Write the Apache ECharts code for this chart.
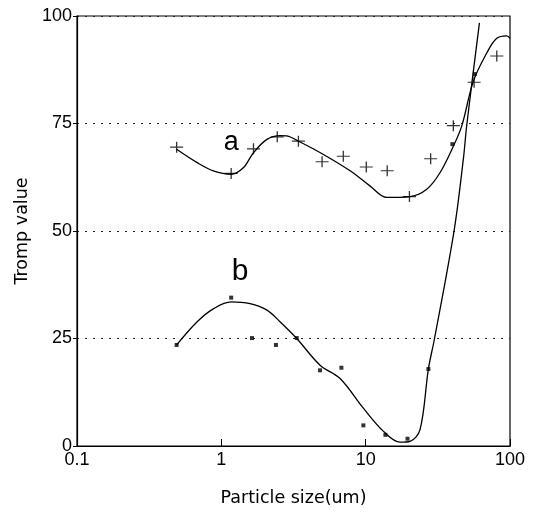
<!DOCTYPE html>
<html>
<head>
<meta charset="utf-8">
<script src="https://cdn.jsdelivr.net/npm/echarts@6/dist/echarts.min.js"></script>
<style>
  html, body { margin: 0; padding: 0; background: #fff; }
  #main { width: 537px; height: 512px; }
</style>
</head>
<body>
<div id="main"></div>
<script>
// measured points (x = particle size, y = tromp value)
var aPointX = [0.49, 1.17, 1.67, 2.44, 3.42, 4.99, 7.0, 10.1, 14.1, 20.1, 28.2, 40.5, 56.4, 81];
var aPointY = [69.5, 63.4, 69.1, 71.9, 70.9, 66.1, 67.4, 64.9, 64.0, 58.0, 66.8, 74.5, 84.6, 90.7];
var bPointX = [0.49, 1.17, 1.63, 2.39, 3.33, 4.83, 6.79, 9.64, 13.7, 19.5, 27.2, 39.9, 57];
var bPointY = [23.5, 34.5, 25.1, 23.5, 25.1, 17.6, 18.2, 4.8, 2.6, 1.7, 17.9, 70.2, 86.5];

// fitted curves
var aCurveX = [0.49, 0.68, 0.88, 1.17, 1.42, 1.67, 2.07, 2.55, 2.84, 3.51, 5.1, 7.8, 10.7, 14.0, 20.3, 26.5, 32.8, 40.5, 46.4, 55.7, 69, 81, 95, 100];
var aCurveY = [69, 65.9, 64.0, 63.2, 64.7, 68.2, 71.3, 72.2, 72.1, 70.7, 67.8, 64.0, 60.5, 57.8, 58.0, 59.7, 63.6, 69.7, 74.5, 84.8, 91.4, 94.8, 95.4, 94.8];
var bCurveX = [0.49, 0.68, 0.88, 1.17, 1.58, 2.07, 2.55, 3.33, 4.83, 6.65, 9.64, 13.3, 17.3, 20.3, 23.8, 27.2, 30.0, 41, 47.5, 50.2, 61.4];
var bCurveY = [23.5, 28.9, 31.9, 33.5, 33.1, 31.6, 28.9, 25, 18.8, 15.7, 8.8, 3.4, 0.9, 1.1, 3.8, 17.9, 25, 50.1, 66.7, 74.7, 98.4];

var xTicks = [0.1, 1, 10, 100];
var yTicks = [0, 25, 50, 75, 100];

// curve labels
var labelA = {text: 'a', x: 1.17, y: 70.6};
var labelB = {text: 'b', x: 1.35, y: 40.5};

function zip(xs, ys) {
    var out = [];
    for (var i = 0; i < xs.length; i++) {
        out.push([xs[i], ys[i]]);
    }
    return out;
}

var font = '"Liberation Sans", Arial, sans-serif';
var titleFont = '"DejaVu Sans", Verdana, sans-serif';
var myChart = echarts.init(document.getElementById('main'));

var option = {
    animation: false,
    backgroundColor: '#fff',
    grid: {
        left: 77, right: 27, top: 16, bottom: 64,
        show: true, borderColor: '#000', borderWidth: 1.2
    },
    xAxis: {
        type: 'log',
        logBase: 10,
        min: xTicks[0],
        max: xTicks[xTicks.length - 1],
        name: 'Particle size(um)',
        nameLocation: 'middle',
        nameGap: 43,
        nameTextStyle: {fontFamily: titleFont, fontSize: 17.5, color: '#000'},
        axisLine: {lineStyle: {color: '#000', width: 1.2}},
        axisTick: {inside: true, length: 7, lineStyle: {color: '#000'}},
        splitLine: {show: false},
        axisLabel: {
            fontFamily: font, fontSize: 18, color: '#000', margin: 5,
            formatter: function (v) { return String(v); }
        }
    },
    yAxis: {
        type: 'value',
        min: yTicks[0],
        max: yTicks[yTicks.length - 1],
        interval: 25,
        name: 'Tromp value',
        nameLocation: 'middle',
        nameGap: 43,
        nameTextStyle: {fontFamily: titleFont, fontSize: 17.5, color: '#000'},
        axisLine: {show: true, lineStyle: {color: '#000', width: 1.2}},
        axisTick: {show: true, length: 4, lineStyle: {color: '#000'}},
        splitLine: {show: true, lineStyle: {color: '#222', type: [2, 6], width: 1}},
        axisLabel: {fontFamily: font, fontSize: 18, color: '#000', margin: 5}
    },
    series: [
        {
            name: 'a curve',
            type: 'line',
            smooth: 0.35,
            showSymbol: false,
            lineStyle: {color: '#000', width: 1.3},
            data: zip(aCurveX, aCurveY),
            markPoint: {
                symbol: 'circle', symbolSize: 1,
                itemStyle: {color: 'transparent'},
                label: {show: true, position: 'inside', fontFamily: font, fontSize: 27, color: '#000',
                    formatter: function (p) { return p.name; }},
                data: [{name: labelA.text, coord: [labelA.x, labelA.y]}]
            }
        },
        {
            name: 'b curve',
            type: 'line',
            smooth: 0.35,
            showSymbol: false,
            lineStyle: {color: '#000', width: 1.3},
            data: zip(bCurveX, bCurveY),
            markPoint: {
                symbol: 'circle', symbolSize: 1,
                itemStyle: {color: 'transparent'},
                label: {show: true, position: 'inside', fontFamily: font, fontSize: 30, color: '#000',
                    formatter: function (p) { return p.name; }},
                data: [{name: labelB.text, coord: [labelB.x, labelB.y]}]
            }
        },
        {
            name: 'a',
            type: 'scatter',
            symbol: 'path://M0,5L12,5M6,0L6,10',
            symbolSize: [13, 11],
            itemStyle: {color: 'none', borderColor: '#000', borderWidth: 1.2},
            data: zip(aPointX, aPointY)
        },
        {
            name: 'b',
            type: 'scatter',
            symbol: 'rect',
            symbolSize: 4,
            itemStyle: {color: '#000'},
            data: zip(bPointX, bPointY)
        }
    ]
};

myChart.setOption(option);
</script>
</body>
</html>
